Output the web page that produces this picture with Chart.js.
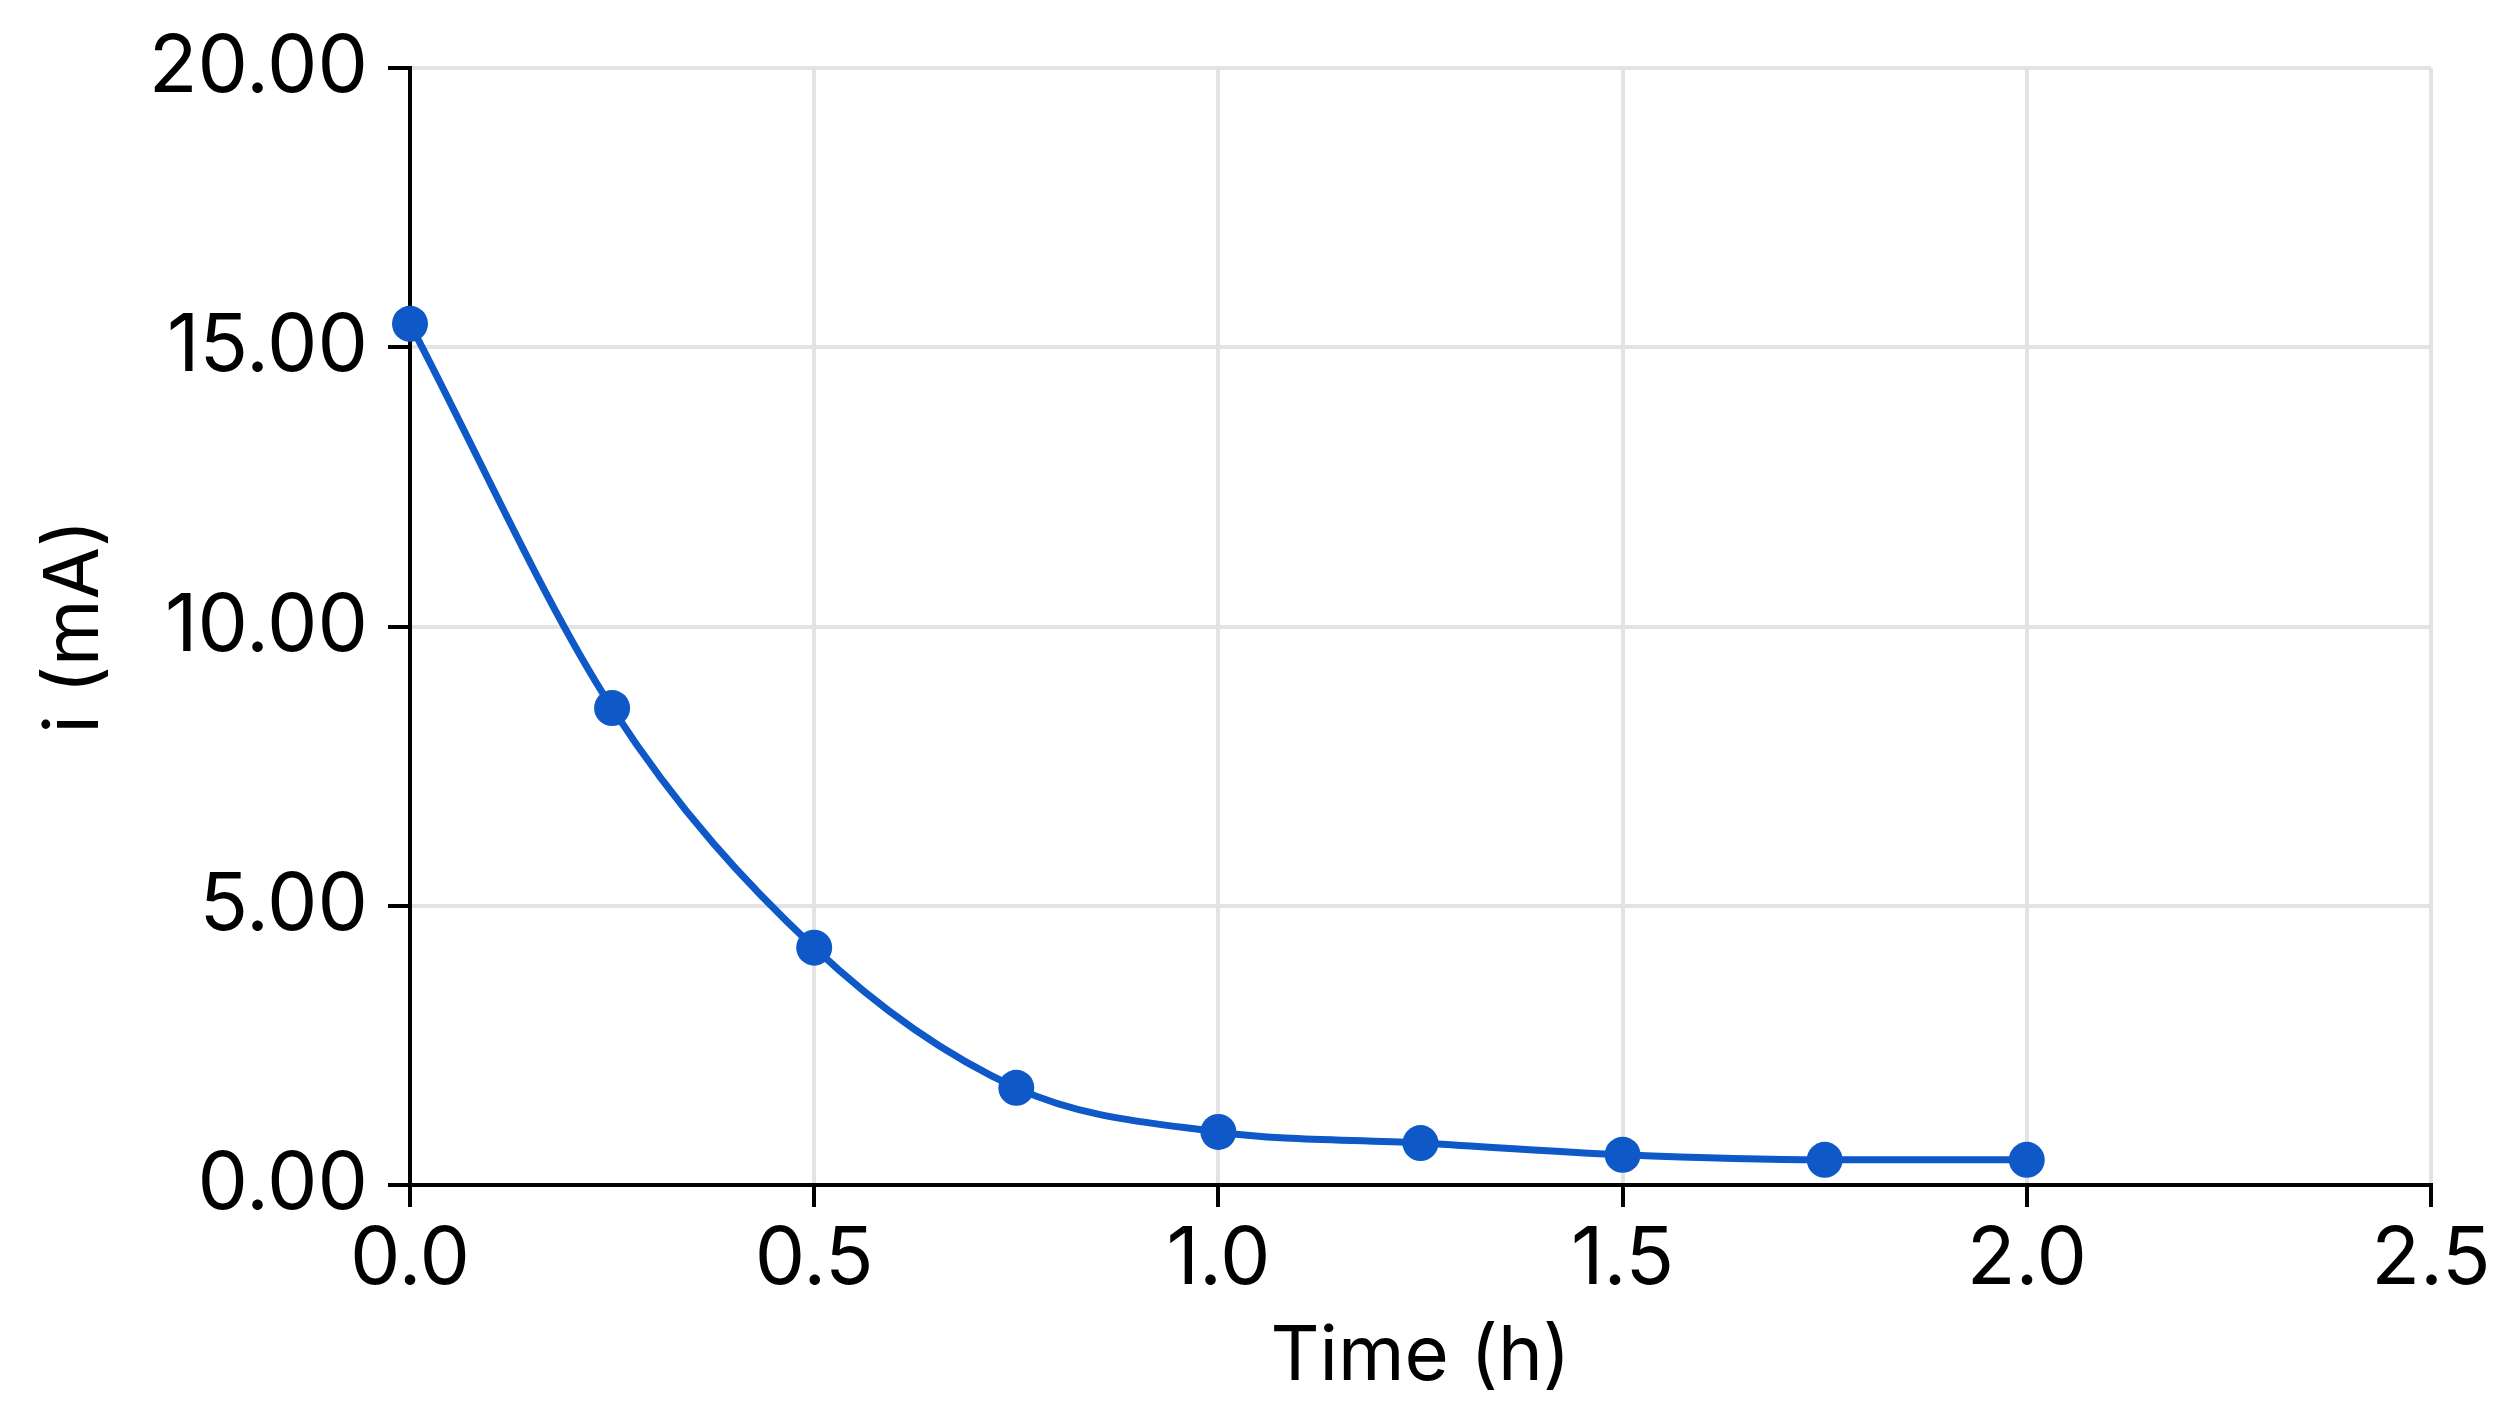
<!DOCTYPE html>
<html>
<head>
<meta charset="utf-8">
<script src="https://cdn.jsdelivr.net/npm/chart.js@4"></script>
<style>
  html, body { margin: 0; padding: 0; background: #fff; }
  #wrap { width: 2514px; height: 1428px; position: relative; }
</style>
</head>
<body>
<div id="wrap"><canvas id="chart"></canvas></div>
<script>
/* ── Data ─────────────────────────────────────────────────────── */
const timeH   = [0, 0.25, 0.5, 0.75, 1.0, 1.25, 1.5, 1.75, 2.0];
const current = [15.42, 8.54, 4.25, 1.74, 0.95, 0.75, 0.54, 0.45, 0.45];

const xTicks = [0, 0.5, 1.0, 1.5, 2.0, 2.5];
const yTicks = [0, 5, 10, 15, 20];

const BLUE = '#0e58c8';
const FONT = "Inter, 'Noto Sans', sans-serif";

/* ── Chart ────────────────────────────────────────────────────── */
const points = timeH.map((t, i) => ({ x: t, y: current[i] }));

const axisStyle = {
  grid: {
    color: '#e3e3e3',
    lineWidth: 4,
    tickColor: '#000',
    tickWidth: 4,
    tickLength: 22,
  },
  border: { color: '#000', width: 4 },
};

new Chart(document.getElementById('chart'), {
  type: 'line',
  data: {
    datasets: [{
      data: points,
      borderColor: BLUE,
      backgroundColor: BLUE,
      borderWidth: 7,
      pointRadius: 18,
      pointHoverRadius: 18,
      pointBorderWidth: 0,
      cubicInterpolationMode: 'monotone',
      fill: false,
      clip: false,
    }],
  },
  options: {
    responsive: true,
    maintainAspectRatio: false,
    animation: false,
    layout: { padding: { top: 65, right: 83, bottom: 0, left: 0 } },
    plugins: { legend: { display: false }, tooltip: { enabled: false } },
    scales: {
      x: {
        type: 'linear',
        min: 0,
        max: 2.5,
        ...axisStyle,
        afterBuildTicks: (s) => { s.ticks = xTicks.map(v => ({ value: v })); },
        afterFit: (s) => { s.height = 243; },
        ticks: {
          color: '#000',
          padding: 5,
          font: { family: FONT, size: 80 },
          callback: (v) => Number(v).toFixed(1),
        },
        title: {
          display: true,
          text: 'Time (h)',
          color: '#000',
          padding: { top: 0, bottom: 25 },
          font: { family: FONT, size: 76 },
        },
      },
      y: {
        min: 0,
        max: 20,
        ...axisStyle,
        afterBuildTicks: (s) => { s.ticks = yTicks.map(v => ({ value: v })); },
        afterFit: (s) => { s.width = 410; },
        ticks: {
          color: '#000',
          padding: 20,
          font: { family: FONT, size: 80 },
          callback: (v) => Number(v).toFixed(2),
        },
        title: {
          display: true,
          text: 'i (mA)',
          color: '#000',
          padding: { top: 30, bottom: 0 },
          font: { family: FONT, size: 76 },
        },
      },
    },
  },
});
</script>
</body>
</html>
